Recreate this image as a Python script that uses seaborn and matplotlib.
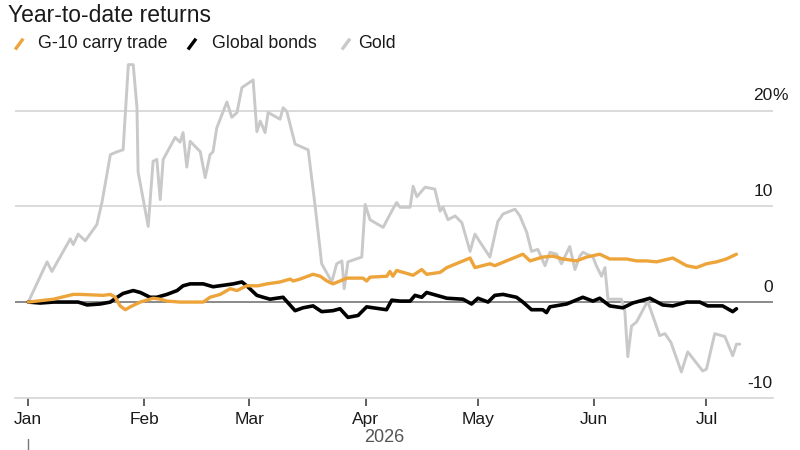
import numpy as np
import pandas as pd
import matplotlib.pyplot as plt
import matplotlib.dates as mdates
from matplotlib.lines import Line2D
import seaborn as sns

# %% data: days since 2026-01-01 and year-to-date return (%)
gold_days = [0, 5, 6.3, 11.2, 12, 13.3, 15.2, 18.3, 19.7, 21.9, 23.7, 25.3, 26.7, 28, 29, 29.3,
             32, 33.3, 34.3, 35.2, 36, 39.2, 40.5, 41.3, 42.3, 43.2, 45.9, 47.2, 48.5, 49.3,
             50.3, 53, 54.3, 55.7, 57, 60, 61, 61.9, 63.2, 64, 67.2, 68, 69, 71.2, 74.7,
             76.5, 78.3, 81, 82.3, 83.7, 84.3, 85.3, 89, 89.9, 91.2, 94.7, 97, 98.3, 99.2,
             101.9, 102.7, 103.7, 105.9, 108.5, 109.9, 110.7, 112, 113.9, 115.7, 117.9,
             119.2, 120.5, 123.2, 125.3, 126.7, 129.9, 131.2, 133, 134.3, 136, 137.9, 139.2,
             141, 142.3, 144.5, 145.9, 147.2, 148, 150.7, 151.6, 153, 153.9, 154.7, 158.3,
             159.2, 160, 161, 162.3, 165.3, 168.5, 169.9, 171.5, 174.3, 176, 180, 181,
             183.2, 185.9, 188, 189, 189.9]
gold_vals = [0, 4.2, 3.2, 6.6, 6.0, 7.1, 6.4, 8.1, 10.5, 15.4, 15.7, 15.9, 24.8, 24.8, 20.3, 13.6,
             7.9, 14.7, 14.9, 10.7, 14.9, 17.2, 16.7, 17.7, 14.1, 16.8, 15.7, 13.0, 15.4, 15.7,
             18.2, 20.9, 19.3, 19.8, 22.4, 23.2, 17.8, 18.9, 17.7, 19.8, 19.1, 20.3, 19.9, 16.5, 15.9,
             10.2, 4.0, 2.1, 4.0, 4.3, 1.4, 4.2, 4.7, 10.2, 8.6, 7.8, 9.5, 10.4, 9.9,
             9.9, 12.1, 11.0, 12.0, 11.8, 9.5, 9.9, 8.6, 9.0, 8.3, 5.3,
             7.1, 6.3, 4.7, 8.4, 9.2, 9.7, 9.0, 7.3, 5.3, 5.5, 3.8, 5.2,
             5.0, 4.0, 5.8, 3.4, 4.8, 5.2, 4.7, 3.8, 2.7, 3.6, 0.3, 0.3,
             -0.9, -5.7, -2.5, -2.1, 0.1, -3.5, -3.3, -4.2, -7.3, -5.2, -7.2, -7.0,
             -3.3, -3.6, -5.6, -4.4, -4.4]

carry_days = [0, 6.7, 12, 13.9, 20, 21.9, 23.2, 24.5, 25.9, 27.2, 29.9, 33.3, 35.2, 37, 40.5,
              46.7, 48.5, 51.2, 53.9, 55.7, 58.3, 61.3, 63.7, 67.2, 69.9, 70.7, 72.5, 76,
              77.9, 79.7, 81.3, 83.2, 85, 89.3, 90.3, 91.2, 95.7, 96.5, 97.3, 98.3, 102.7,
              105, 106.3, 109.9, 111.7, 117.9, 119.2, 123.2, 124.5, 127.6, 132, 133.9, 137.3,
              140, 142.7, 146.3, 149, 152.5, 155.2, 159.7, 162.3, 165, 167.7, 172, 175.7,
              178.3, 181, 183.7, 186.3, 189]
carry_vals = [0, 0.3, 0.8, 0.8, 0.7, 0.8, 0.5, -0.4, -0.8, -0.5, 0, 0.4, 0.3, 0.1, 0,
              0, 0.5, 0.8, 1.4, 1.2, 1.7, 1.7, 1.9, 2.1, 2.4, 2.2, 2.4, 2.9,
              2.7, 2.2, 1.9, 2.2, 2.5, 2.5, 2.2, 2.6, 2.7, 3.2, 2.7, 3.3, 2.8,
              3.4, 2.9, 3.1, 3.6, 4.6, 3.6, 4.0, 3.8, 4.3, 5.0, 4.3, 4.7,
              4.8, 4.5, 4.3, 4.7, 5.0, 4.5, 4.5, 4.3, 4.3, 4.2, 4.6, 3.8,
              3.6, 4.0, 4.2, 4.5, 5.0]

bonds_days = [0, 3.2, 6.7, 10.3, 13.3, 15.7, 19.2, 21.9, 23.7, 25.3, 28, 29.9, 32.5, 34.3, 37,
              39.7, 41.3, 43.2, 46.7, 49.3, 54.7, 57, 58.3, 61, 62.7, 64.5, 68, 71.2, 73.3,
              76, 78.3, 81.3, 83.2, 85.3, 88, 90.3, 95.6, 97, 99.2, 101.9, 103.2, 105, 106.3,
              111.7, 116, 118.3, 120, 122.7, 124.5, 126.7, 130.3, 132, 134.3, 137.3, 138.3,
              139.2, 143.7, 148, 150.7, 152.5, 155.2, 158.7, 161.3, 165.9, 169.3, 172, 175.7,
              179.2, 181.3, 185.3, 188, 189]
bonds_vals = [0, -0.1, 0, 0, 0, -0.3, -0.2, 0, 0.5, 0.9, 1.2, 1.0, 0.5, 0.5, 0.8,
              1.2, 1.7, 1.9, 1.9, 1.6, 1.9, 2.1, 1.7, 0.7, 0.5, 0.3, 0.5, -0.9, -0.6,
              -0.4, -1.0, -0.9, -0.7, -1.6, -1.4, -0.5, -0.8, 0.2, 0.1, 0.1, 0.7, 0.5, 1.0,
              0.4, 0.3, -0.2, 0.4, 0, 0.7, 0.8, 0.5, 0, -0.8, -0.8, -1.1,
              -0.5, -0.2, 0.5, 0.1, 0.4, -0.4, -0.6, -0.1, 0.4, -0.3, -0.4, 0,
              0, -0.4, -0.4, -1.0, -0.7]

series_names = ["G-10 carry trade", "Global bonds", "Gold"]
series_colors = ["#eda43a", "#000000", "#c9c9c9"]
y_ticks = [-10, 0, 10, 20]
y_labels = ["-10", "0", "10", "20"]

start = pd.Timestamp("2026-01-01")


def to_df(days, vals):
    return pd.DataFrame({"date": start + pd.to_timedelta(days, unit="D"), "ret": vals})


gold = to_df(gold_days, gold_vals)
carry = to_df(carry_days, carry_vals)
bonds = to_df(bonds_days, bonds_vals)

# %% plot
sns.set_style("white")
plt.rcParams["font.family"] = ["Liberation Sans", "DejaVu Sans"]

fig = plt.figure(figsize=(8, 4.5), dpi=100)
ax = fig.add_axes([0.019, 0.116, 0.947, 0.751])

for yv in [10, 20]:
    ax.axhline(yv, color="#d4d4d4", lw=1.2, zorder=0)
ax.axhline(0, color="#777777", lw=1.2, zorder=1)

sns.lineplot(data=gold, x="date", y="ret", color=series_colors[2], lw=2.1, ax=ax, zorder=2)
sns.lineplot(data=bonds, x="date", y="ret", color=series_colors[1], lw=2.6, ax=ax, zorder=3)
sns.lineplot(data=carry, x="date", y="ret", color=series_colors[0], lw=2.4, ax=ax, zorder=4)

ax.set_ylim(-10, 25.3)
ax.set_xlim(start - pd.Timedelta(days=3.5), start + pd.Timedelta(days=198.7))
ax.set_xlabel("")
ax.set_ylabel("")
ax.set_yticks([])

for side in ["top", "left", "right"]:
    ax.spines[side].set_visible(False)
ax.spines["bottom"].set_color("#d4d4d4")
ax.spines["bottom"].set_linewidth(1.2)

ax.xaxis.set_major_locator(mdates.MonthLocator())
ax.xaxis.set_major_formatter(mdates.DateFormatter("%b"))
ax.tick_params(axis="x", length=6, width=1.2, color="#444444", labelsize=12.5,
               labelcolor="#1a1a1a", pad=4, bottom=True)

# right side value labels sitting on top of the gridlines
trans = ax.get_yaxis_transform()
for yv, lab in zip(y_ticks, y_labels):
    ax.text(1.0, yv + 0.75, lab, transform=trans, ha="right", va="bottom",
            fontsize=12.5, color="#1a1a1a")
ax.text(1.0, y_ticks[-1] + 0.75, "%", transform=trans, ha="left", va="bottom",
        fontsize=12.5, color="#1a1a1a")

# year label
ax.text(0.487, -0.118, "2026", transform=ax.transAxes, ha="center", va="center",
        fontsize=13, color="#555555")
fig.add_artist(Line2D([0.035, 0.035], [0.0, 0.025], color="#777777", lw=1))

# title and legend
fig.text(0.01, 0.99, "Year-to-date returns", ha="left", va="top", fontsize=16.5,
         color="#1a1a1a")
slash_x = [0.019, 0.235, 0.4275]
text_x = [0.0475, 0.265, 0.4475]
for xs, xt, name, col in zip(slash_x, text_x, series_names, series_colors):
    fig.add_artist(Line2D([xs, xs + 0.01], [0.89, 0.914], color=col, lw=2.4,
                          solid_capstyle="butt"))
    fig.text(xt, 0.903, name, ha="left", va="center", fontsize=12.8,
             color="#1a1a1a")

plt.savefig("out.png", dpi=100)
